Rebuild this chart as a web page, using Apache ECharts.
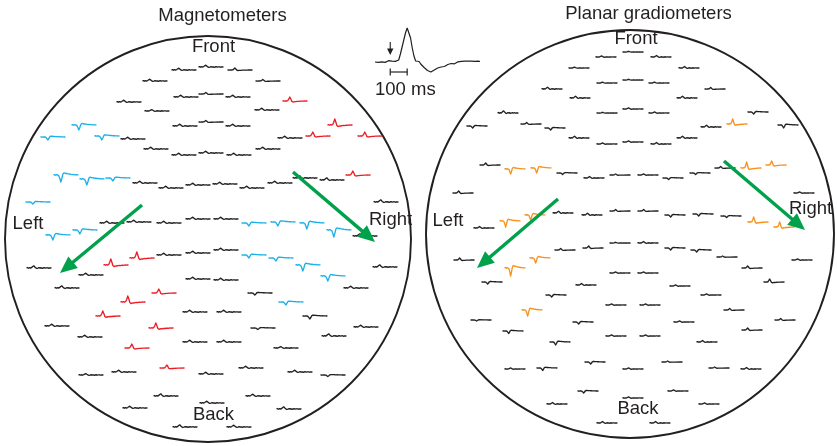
<!DOCTYPE html>
<html>
<head>
<meta charset="utf-8">
<script src="https://cdn.jsdelivr.net/npm/echarts@6/dist/echarts.min.js"></script>
<style>
  html, body { margin: 0; padding: 0; background: #ffffff; }
  #chart { width: 837px; height: 446px; }
</style>
</head>
<body>
<div id="chart"></div>
<script>
// Sensor responses on the helmet, seen from above.
// Each row: [x, y, waveform shape, amplitude, group]; x/y in helmet units (centre 0, front up).
// shape: 'f' = no clear response, 'd' = downward deflection, 'p' = upward deflection
// group: 'k' = plain, 'b' = negative field, 'r' = positive field, 'o' = strong gradient
const magnetometers = [
  [-24,169,'f',1,'k'],[3,172,'f',1,'k'],[32,169,'p',2,'k'],
  [-53,158,'f',1,'k'],[60,158,'p',1.5,'k'],
  [-79,137,'f',1,'k'],[-22,142,'f',1,'k'],[3,145,'p',1.5,'k'],[30,142,'f',1,'k'],[87,138,'p',4,'r'],
  [-51,128,'f',0.8,'k'],[59,129,'f',1,'k'],
  [-124,114,'d',5,'b'],[-23,113,'f',1,'k'],[3,117,'p',1.5,'k'],[30,113,'f',1,'k'],[132,114,'p',6,'r'],
  [-155,102,'d',3,'b'],[-101,103,'d',4,'b'],[-75,100,'f',1,'k'],[82,101,'f',1,'k'],[110,103,'p',4,'r'],[162,103,'p',4,'r'],
  [-52,90,'f',1,'k'],[60,90,'f',1,'k'],
  [-24,84,'f',1,'k'],[3,86,'f',1,'k'],[31,84,'f',1,'k'],
  [-142,64,'d',7,'b'],[-116,60,'d',6,'b'],[-90,61,'d',3,'b'],[-63,56,'f',1,'k'],[-37,51,'f',1,'k'],[-10,54,'f',1,'k'],
  [17,55,'f',1,'k'],[44,51,'f',1,'k'],[72,56,'f',1,'k'],[97,61,'f',1.2,'k'],[124,59,'f',1.2,'k'],[150,64,'p',4,'r'],
  [-170,37,'d',2,'b'],[178,37,'f',1.2,'k'],
  [-150,4,'d',5,'b'],[-123,9,'d',4,'b'],[-96,16,'f',1,'k'],[-69,17,'f',1,'k'],[-39,16,'f',1,'k'],[-10,20,'f',1,'k'],
  [18,20,'f',1,'k'],[46,16,'d',3,'b'],[75,17,'d',4,'b'],[104,16,'d',6,'b'],[131,9,'d',7,'b'],[157,3,'f',1.2,'k'],
  [-92,-26,'p',6,'r'],[-66,-19,'p',6,'r'],[-39,-16,'f',1,'k'],[-10,-14,'f',1,'k'],[18,-11,'f',1,'k'],
  [46,-16,'d',3,'b'],[73,-19,'d',3,'b'],[100,-26,'d',6,'b'],[125,-37,'d',5,'b'],[177,-28,'f',1.2,'k'],
  [-169,-29,'f',1.2,'k'],[-117,-36,'f',1,'k'],[-141,-49,'f',1.2,'k'],[-10,-40,'f',1,'k'],[18,-41,'f',1,'k'],[148,-49,'f',1,'k'],
  [-44,-54,'p',4,'r'],[52,-54,'d',2,'k'],
  [-75,-63,'p',6,'r'],[83,-63,'d',3,'b'],
  [-100,-77,'p',5,'r'],[-13,-73,'f',1,'k'],[21,-73,'f',1,'k'],[107,-77,'d',3,'k'],
  [-151,-87,'f',1,'k'],[-47,-89,'p',5,'r'],[55,-89,'d',1.5,'k'],[158,-88,'f',1,'k'],
  [-118,-98,'f',1,'k'],[126,-97,'f',1.2,'k'],
  [-71,-109,'p',4,'r'],[-13,-103,'f',1,'k'],[21,-103,'f',1,'k'],[78,-109,'f',0.8,'k'],
  [-36,-129,'p',3,'r'],[43,-129,'f',1,'k'],[-84,-133,'f',1,'k'],[92,-133,'f',1,'k'],[-117,-136,'f',0.8,'k'],
  [3,-135,'f',1,'k'],[125,-136,'d',1.5,'k'],
  [-42,-157,'f',1.2,'k'],[50,-157,'f',1,'k'],[4,-164,'f',1,'k'],
  [-73,-169,'f',1,'k'],[81,-170,'f',1.2,'k'],
  [-23,-188,'f',1.2,'k'],[31,-188,'f',1,'k']
];

const gradiometers = [
  [-24,177,'f',0.6,'k'],[3,182,'f',0.4,'k'],[31,177,'f',0.8,'k'],
  [-51,166,'f',0.5,'k'],[59,166,'f',0.8,'k'],
  [-23,151,'f',0.5,'k'],[3,154,'f',0.4,'k'],[29,151,'f',0.5,'k'],[-78,145,'f',1,'k'],[85,145,'p',1.5,'k'],
  [-50,136,'f',1,'k'],[57,136,'f',1,'k'],
  [-23,121,'f',0.4,'k'],[3,125,'f',0.6,'k'],[29,121,'f',0.6,'k'],[-122,121,'f',1.2,'k'],[128,122,'d',2,'k'],
  [-153,108,'d',2,'k'],[-99,110,'p',1.5,'k'],[-75,106,'d',2,'k'],[81,107,'f',1,'k'],[107,110,'p',5,'o'],[158,109,'d',3,'k'],
  [-51,96,'f',1,'k'],[57,96,'f',1,'k'],
  [-23,90,'f',0.6,'k'],[3,92,'f',0.6,'k'],[31,90,'f',0.8,'k'],
  [-140,69,'p',2,'k'],[-115,65,'d',5,'o'],[-89,66,'d',5,'o'],[-63,61,'d',1.5,'k'],[-36,56,'f',0.8,'k'],[-10,59,'p',1,'k'],
  [18,59,'f',0.6,'k'],[43,56,'d',1.5,'k'],[70,61,'d',1.5,'k'],[95,66,'p',1.5,'k'],[121,66,'p',6,'o'],[146,69,'p',4,'o'],
  [-167,41,'p',2,'k'],[174,41,'f',0.6,'k'],
  [-146,6,'f',0.8,'k'],[-120,13,'d',6,'o'],[-95,19,'d',5,'o'],[-67,21,'f',1,'k'],[-38,19,'f',1,'k'],[-10,23,'p',1.5,'k'],
  [18,23,'p',1.5,'k'],[45,19,'d',2,'k'],[73,20,'d',2,'k'],[101,18,'d',1.5,'k'],[128,12,'p',5,'o'],[154,7,'p',5,'o'],
  [-166,-26,'p',2,'k'],[-115,-34,'d',8,'o'],[-90,-24,'d',5,'o'],[-65,-16,'p',1.5,'k'],[-37,-14,'p',2,'k'],
  [-10,-9,'f',0.4,'k'],[18,-9,'f',0.8,'k'],[45,-14,'d',2,'k'],[71,-16,'d',2,'k'],[97,-23,'p',1,'k'],[122,-34,'p',2,'k'],[172,-26,'f',0.6,'k'],
  [-138,-48,'d',2,'k'],[-44,-51,'f',0.8,'k'],[-10,-39,'f',0.6,'k'],[18,-39,'f',0.6,'k'],[50,-52,'f',0.6,'k'],[144,-48,'p',3,'k'],
  [-74,-61,'d',2,'k'],[81,-61,'f',0.6,'k'],
  [-98,-76,'d',6,'o'],[-14,-71,'f',0.6,'k'],[20,-71,'f',0.6,'k'],[104,-76,'p',1.5,'k'],
  [-149,-86,'d',1,'k'],[-47,-88,'d',2,'k'],[54,-88,'f',0.6,'k'],[155,-86,'p',1.5,'k'],
  [-117,-97,'d',2.5,'k'],[122,-96,'p',2,'k'],
  [-70,-108,'d',3,'k'],[-14,-102,'f',0.6,'k'],[20,-102,'f',0.6,'k'],[77,-108,'f',0.8,'k'],
  [-115,-135,'f',0.6,'k'],[-83,-134,'d',2.5,'k'],[-35,-128,'d',2,'k'],[3,-135,'f',0.6,'k'],[42,-128,'p',1,'k'],
  [89,-134,'p',1,'k'],[121,-135,'f',0.8,'k'],
  [-42,-157,'d',2,'k'],[3,-164,'f',0.6,'k'],[48,-157,'f',0.6,'k'],
  [-73,-170,'f',0.8,'k'],[79,-170,'f',0.6,'k'],
  [-23,-189,'f',0.8,'k'],[30,-189,'f',0.8,'k']
];

// Waveform templates (one epoch, relative amplitude)
const shapeFlat = [0,0.4,-0.2,0.3,-0.1,0.5,1.2,1.8,0.9,0.1,-0.4,-0.1,0.3,0,0.2,-0.3,0,0.3,-0.1,0.1,0.2,-0.2,0.1,0,0.1];
const shapeDown = [0,0.06,-0.04,0.05,0,-0.08,-0.45,-1,-0.5,0.12,0.3,0.26,0.2,0.22,0.16,0.12,0.14,0.08,0.06,0.08,0.04,0.02,0.04,0.01,0.02];
const shapeUp   = [0,0.05,-0.04,0.05,0,0.08,0.45,1,0.5,-0.1,-0.25,-0.2,-0.15,-0.16,-0.1,-0.08,-0.1,-0.05,-0.03,-0.05,-0.02,0,-0.02,0,0];

// Averaged response of one channel (inset): time in ms, amplitude
const insetTime = [-90,-80,-70,-60,-50,-40,-30,-20,-10,0,10,20,30,40,50,60,70,80,90,100,105,110,120,130,140,150,160,170,180,
  190,200,210,220,230,240,250,260,270,280,290,300,310,320,330,340,350,360,370,380,390,400,410,420,430,440,450,460,470,480,490,500,510,520,530];
const insetAmp = [0,0.8,-0.3,1.2,0.2,0.9,-0.4,0.7,1.3,0.1,0.8,-0.2,0.6,0.4,2,8,15,22,29,34,35,33,24,14,6,1,-1,0.5,-2,
  -4,-5.5,-7,-8.5,-9,-10,-9.5,-8,-7.5,-6,-6.5,-5,-4,-4.5,-3,-2.5,-3,-1.5,-1,-1.8,-0.5,0.2,-0.8,0.6,-0.2,0.8,0,1,0.2,0.9,-0.1,0.7,0.3,0.8,0.5];
const scaleBarMs = [0, 100];
const scaleBarLabel = '100 ms';

// Direction of the field pattern (tail -> head), helmet units
const arrowsMag  = [[-66,34,-148,-34],[85,67,167,-3]];
const arrowsGrad = [[-72,35,-153,-34],[94,73,175,4]];

// ---- layout & style ----
const INK = '#231f20';
const GREEN = '#00a14b';
const groupColor = { k: INK, b: '#1cb0e8', r: '#ec1c24', o: '#f7921e' };
const shapes = { f: shapeFlat, d: shapeDown, p: shapeUp };
const FONT = '"Liberation Sans", Arial, Helvetica, sans-serif';
const FS = 18.5;

const helmets = [
  { cx: 208, cy: 239, r: 204, sensors: magnetometers, traceW: 25, arrows: arrowsMag },
  { cx: 630, cy: 234, r: 205, sensors: gradiometers, traceW: 21, arrows: arrowsGrad }
];

const grids = [], xAxes = [], yAxes = [], series = [];
helmets.forEach((h, i) => {
  grids.push({ left: h.cx - h.r, top: h.cy - h.r, width: 2 * h.r, height: 2 * h.r });
  xAxes.push({ type: 'value', gridIndex: i, min: -h.r, max: h.r, show: false });
  yAxes.push({ type: 'value', gridIndex: i, min: -h.r, max: h.r, show: false });

  // helmet outline
  series.push({
    type: 'custom', xAxisIndex: i, yAxisIndex: i, silent: true, clip: false,
    data: [[0, 0]],
    renderItem: (params, api) => {
      const c = api.coord([0, 0]);
      const rr = api.size([h.r, 0])[0];
      return { type: 'circle', shape: { cx: c[0], cy: c[1], r: rr - 1 },
        style: { fill: null, stroke: INK, lineWidth: 1.9 } };
    }
  });

  // sensor traces
  series.push({
    type: 'custom', xAxisIndex: i, yAxisIndex: i, silent: true, clip: false,
    data: h.sensors.map(s => [s[0], s[1]]),
    renderItem: (params, api) => {
      const s = h.sensors[params.dataIndex];
      const c = api.coord([s[0], s[1]]);
      const tpl = shapes[s[2]];
      const n = tpl.length;
      const pts = tpl.map((v, k) => [c[0] - h.traceW / 2 + k * h.traceW / (n - 1), c[1] - v * s[3]]);
      return { type: 'polyline', shape: { points: pts },
        style: { fill: null, stroke: groupColor[s[4]], lineWidth: 1.35, lineJoin: 'round' } };
    }
  });

  // field direction arrows
  series.push({
    type: 'custom', xAxisIndex: i, yAxisIndex: i, silent: true, clip: false, z: 5,
    data: h.arrows.map(a => [a[0], a[1]]),
    renderItem: (params, api) => {
      const a = h.arrows[params.dataIndex];
      const p0 = api.coord([a[0], a[1]]);
      const p1 = api.coord([a[2], a[3]]);
      const dx = p1[0] - p0[0], dy = p1[1] - p0[1];
      const len = Math.hypot(dx, dy), ux = dx / len, uy = dy / len;
      const hl = 17, hw = 7.5;
      const bx = p1[0] - ux * hl, by = p1[1] - uy * hl;
      return { type: 'group', children: [
        { type: 'line', shape: { x1: p0[0], y1: p0[1], x2: bx + ux * 3, y2: by + uy * 3 },
          style: { stroke: GREEN, lineWidth: 3.4 } },
        { type: 'polygon', shape: { points: [[p1[0], p1[1]], [bx - uy * hw, by + ux * hw], [bx + uy * hw, by - ux * hw]] },
          style: { fill: GREEN } }
      ] };
    }
  });
});

// inset: averaged channel response
grids.push({ left: 375, top: 22, width: 105, height: 75 });
xAxes.push({ type: 'value', gridIndex: 2, min: -90, max: 530, show: false });
yAxes.push({ type: 'value', gridIndex: 2, min: -35, max: 40, show: false });
series.push({
  type: 'line', xAxisIndex: 2, yAxisIndex: 2, silent: true, showSymbol: false, animation: false,
  data: insetTime.map((t, k) => [t, insetAmp[k]]),
  lineStyle: { color: INK, width: 1.2 }
});
series.push({
  type: 'custom', xAxisIndex: 2, yAxisIndex: 2, silent: true, clip: false,
  data: [[0, 0]],
  renderItem: (params, api) => {
    const onset = api.coord([0, 20]);
    const tip = api.coord([0, 7]);
    const b0 = api.coord([scaleBarMs[0], -10]);
    const b1 = api.coord([scaleBarMs[1], -10]);
    const lab = api.coord([-90, -28]);
    return { type: 'group', children: [
      { type: 'line', shape: { x1: onset[0], y1: onset[1], x2: onset[0], y2: tip[1] - 5 }, style: { stroke: INK, lineWidth: 1.1 } },
      { type: 'polygon', shape: { points: [[tip[0], tip[1]], [tip[0] - 3.2, tip[1] - 6.5], [tip[0] + 3.2, tip[1] - 6.5]] }, style: { fill: INK } },
      { type: 'line', shape: { x1: b0[0], y1: b0[1], x2: b1[0], y2: b1[1] }, style: { stroke: INK, lineWidth: 1.2 } },
      { type: 'line', shape: { x1: b0[0], y1: b0[1] - 3.5, x2: b0[0], y2: b0[1] + 3.5 }, style: { stroke: INK, lineWidth: 1.2 } },
      { type: 'line', shape: { x1: b1[0], y1: b1[1] - 3.5, x2: b1[0], y2: b1[1] + 3.5 }, style: { stroke: INK, lineWidth: 1.2 } },
      { type: 'text', x: lab[0], y: lab[1], style: { text: scaleBarLabel, font: FS + 'px ' + FONT, fill: INK, align: 'left', verticalAlign: 'middle' } }
    ] };
  }
});

// text labels
const label = (text, x, y) => ({ type: 'text', x: x, y: y,
  style: { text: text, font: FS + 'px ' + FONT, fill: INK, align: 'center', verticalAlign: 'middle' } });

const option = {
  animation: false,
  backgroundColor: '#ffffff',
  grid: grids, xAxis: xAxes, yAxis: yAxes, series: series,
  graphic: [
    label('Magnetometers', 222.5, 16),
    label('Planar gradiometers', 648.5, 13.5),
    label('Front', 213.5, 46.5),
    label('Back', 213.5, 415),
    label('Left', 28, 224),
    label('Right', 390.5, 220),
    label('Front', 636, 39),
    label('Back', 638, 409),
    label('Left', 448, 220.5),
    label('Right', 810.5, 208.5)
  ]
};

const chart = echarts.init(document.getElementById('chart'), null, { renderer: 'canvas' });
chart.setOption(option);
</script>
</body>
</html>
